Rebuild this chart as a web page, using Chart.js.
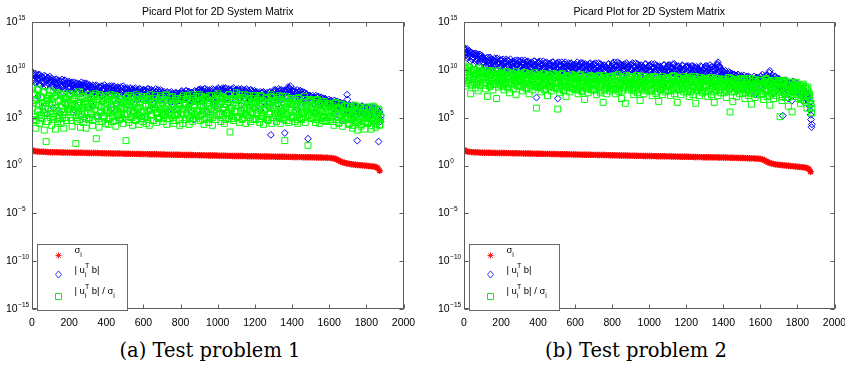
<!DOCTYPE html>
<html>
<head>
<meta charset="utf-8">
<script src="https://cdn.jsdelivr.net/npm/chart.js@4.4.1/dist/chart.umd.min.js"></script>
<style>
  html, body { margin: 0; padding: 0; background: #fff; overflow: hidden; }
  body { width: 845px; height: 365px; position: relative; }
  .panel { position: absolute; top: 0; height: 332px; }
  .caption { position: absolute; top: 340px; width: 420px; text-align: center;
             font-family: 'DejaVu Serif', serif; font-size: 19.5px; line-height: 22px; color: #000; }
</style>
</head>
<body>
<div class="panel" style="left:0;width:422px"><canvas id="c1"></canvas></div>
<div class="panel" style="left:425px;width:440px"><canvas id="c2"></canvas></div>
<div class="caption" style="left:0">(a) Test problem 1</div>
<div class="caption" style="left:426px">(b) Test problem 2</div>
<script>
// singular value indices: sigma every 10th, the coefficients at i = 1,6,11,... and i = 3,8,13,...
const sigmaIdx = Array.from({ length: 188 }, (_, k) => 1 + 10 * k);
const coefIdx = Array.from({ length: 376 }, (_, k) => 1 + 5 * k);
const midIdx = Array.from({ length: 376 }, (_, k) => 3 + 5 * k);

const yTickExps = [-15, -10, -5, 0, 5, 10, 15];
const xTicks = [0, 200, 400, 600, 800, 1000, 1200, 1400, 1600, 1800, 2000];
const title = 'Picard Plot for 2D System Matrix';

// all values below are log10 of the plotted quantity
const sigma1 = [
  1.62,1.52,1.48,1.46,1.45,1.44,1.43,1.42,1.41,1.40,
  1.39,1.39,1.38,1.38,1.37,1.37,1.36,1.36,1.36,1.35,
  1.35,1.35,1.34,1.34,1.34,1.33,1.33,1.33,1.32,1.32,
  1.31,1.31,1.31,1.30,1.30,1.30,1.29,1.29,1.28,1.28,
  1.27,1.27,1.27,1.26,1.26,1.26,1.25,1.25,1.24,1.24,
  1.23,1.23,1.23,1.22,1.22,1.21,1.21,1.21,1.20,1.20,
  1.19,1.19,1.19,1.18,1.18,1.17,1.17,1.17,1.16,1.16,
  1.15,1.15,1.14,1.14,1.14,1.13,1.13,1.12,1.12,1.12,
  1.11,1.11,1.10,1.10,1.10,1.09,1.09,1.08,1.08,1.08,
  1.07,1.07,1.06,1.06,1.06,1.05,1.05,1.04,1.04,1.04,
  1.03,1.03,1.03,1.02,1.02,1.01,1.01,1.01,1.00,1.00,
  1.00,0.99,0.99,0.99,0.98,0.98,0.97,0.97,0.97,0.96,
  0.96,0.96,0.95,0.95,0.95,0.94,0.94,0.94,0.93,0.93,
  0.93,0.92,0.92,0.92,0.91,0.91,0.91,0.90,0.90,0.90,
  0.89,0.89,0.89,0.88,0.88,0.88,0.87,0.87,0.86,0.86,
  0.86,0.85,0.85,0.84,0.84,0.83,0.83,0.82,0.82,0.81,
  0.80,0.78,0.75,0.70,0.62,0.52,0.42,0.34,0.28,0.24,
  0.20,0.16,0.13,0.10,0.08,0.06,0.04,0.02,0.01,-0.01,
  -0.03,-0.05,-0.07,-0.09,-0.12,-0.16,-0.25,-0.55
];
const blue1 = [
  9.8,9.5,8.9,9.6,8.6,9.4,7.2,9.1,9.5,8.4,9.3,6.1,8.8,9.4,8.2,9.0,5.4,9.2,8.5,9.3,
  8.7,9.1,8.3,6.0,8.9,8.5,9.0,7.9,8.6,8.8,5.5,8.2,9.0,8.4,7.6,8.9,8.5,6.3,8.7,8.1,
  8.6,8.2,7.8,8.7,8.4,5.8,8.0,8.6,7.6,8.3,8.5,6.6,8.1,8.7,7.9,8.4,4.9,8.2,8.6,7.7,
  8.3,7.9,8.4,7.4,8.1,6.2,8.3,7.7,8.0,8.4,5.2,7.8,8.2,7.5,8.3,7.9,6.7,8.1,8.4,7.6,
  8.2,7.6,8.0,8.3,7.3,5.9,8.1,7.8,8.3,7.5,6.5,8.0,8.2,7.4,7.9,4.8,8.1,7.7,8.3,7.2,
  8.0,7.5,8.1,7.2,7.8,6.3,8.0,7.6,7.9,5.6,7.4,8.1,7.7,6.8,7.9,7.3,8.0,7.5,5.1,7.8,
  7.9,7.4,7.8,6.9,8.0,7.2,7.6,5.8,7.9,7.3,7.7,6.4,7.5,8.0,7.1,7.8,4.9,7.6,7.9,7.0,
  7.6,7.1,7.7,6.8,7.4,7.6,5.7,7.2,7.5,6.6,7.7,7.0,7.3,6.2,7.6,7.4,5.3,7.1,7.5,6.9,
  7.5,7.8,7.0,7.6,6.5,7.3,7.8,7.1,5.9,7.7,7.4,6.8,7.6,7.2,4.8,7.8,7.5,6.7,7.3,7.9,
  7.7,8.0,7.3,7.9,6.6,7.6,8.0,7.2,7.8,5.6,7.5,7.9,7.1,6.9,8.0,7.4,7.7,6.2,7.9,7.3,
  8.1,7.5,7.9,7.0,8.0,7.6,5.9,7.8,8.1,7.3,7.7,6.5,8.0,7.4,7.9,5.2,7.6,8.1,7.2,7.8,
  7.9,7.4,8.0,7.1,7.7,6.3,7.9,7.5,7.8,5.4,7.6,8.0,7.2,7.7,6.7,7.9,7.3,7.8,6.0,7.5,
  7.6,7.2,7.7,6.8,7.5,7.1,5.8,7.6,7.3,7.7,6.5,7.4,7.0,7.6,6.1,7.3,7.7,3.2,7.5,7.1,
  7.7,7.3,7.9,7.0,7.6,6.4,7.8,7.4,7.9,5.7,7.5,7.8,3.4,7.6,7.9,7.2,7.7,8.1,8.3,7.5,
  7.8,7.3,7.9,6.9,7.6,7.2,5.9,7.7,7.4,7.8,6.6,7.5,7.1,7.6,6.3,7.4,7.2,2.8,7.0,7.3,
  7.2,6.8,7.3,6.5,7.1,6.9,5.5,7.2,6.7,7.0,6.3,7.1,6.6,7.0,5.1,6.8,6.9,6.4,6.7,6.5,
  6.7,6.3,6.8,6.0,6.6,6.4,5.2,6.7,6.2,6.5,5.8,6.6,6.1,6.4,4.7,6.3,6.5,5.9,6.2,7.4,
  6.2,5.8,6.3,5.5,6.1,5.9,4.9,6.2,5.7,6.0,2.6,6.1,5.6,5.9,5.2,6.2,5.8,5.4,6.0,5.7,
  6.0,5.6,6.1,5.3,5.9,5.7,4.8,6.0,5.5,5.8,5.1,5.9,5.4,2.5,5.6,4.6
];
const blue1Mid = [
  9.6,9.0,9.4,8.7,9.2,8.9,9.5,8.5,9.1,9.3,8.8,9.2,8.6,9.0,9.3,8.4,8.9,9.1,8.7,9.0,
  8.9,8.4,8.8,8.1,8.7,9.0,8.3,8.6,8.9,7.9,8.5,8.8,8.2,8.7,8.0,8.9,8.4,8.6,8.1,8.8,
  8.6,8.1,8.5,7.8,8.4,8.7,8.0,8.3,8.6,7.7,8.2,8.5,7.9,8.4,7.6,8.6,8.1,8.3,7.8,8.5,
  8.3,7.8,8.2,7.5,8.1,8.4,7.7,8.0,8.3,7.4,7.9,8.2,7.6,8.1,7.3,8.3,7.8,8.0,7.5,8.2,
  8.2,7.7,8.1,7.4,8.0,8.3,7.6,7.9,8.2,7.3,7.8,8.1,7.5,8.0,7.2,8.2,7.7,7.9,7.4,8.1,
  8.0,7.5,7.9,7.2,7.8,8.1,7.4,7.7,8.0,7.1,7.6,7.9,7.3,7.8,7.0,8.0,7.5,7.7,7.2,7.9,
  7.9,7.4,7.8,7.1,7.7,8.0,7.3,7.6,7.9,7.0,7.5,7.8,7.2,7.7,6.9,7.9,7.4,7.6,7.1,7.8,
  7.6,7.1,7.5,6.8,7.4,7.7,7.0,7.3,7.6,6.7,7.2,7.5,6.9,7.4,6.6,7.6,7.1,7.3,6.8,7.5,
  7.7,7.2,7.6,6.9,7.5,7.8,7.1,7.4,7.7,6.8,7.3,7.6,7.0,7.5,6.7,7.7,7.2,7.4,6.9,7.6,
  7.9,7.4,7.8,7.1,7.7,8.0,7.3,7.6,7.9,7.0,7.5,7.8,7.2,7.7,6.9,7.9,7.4,7.6,7.1,7.8,
  8.0,7.5,7.9,7.2,7.8,8.1,7.4,7.7,8.0,7.1,7.6,7.9,7.3,7.8,7.0,8.0,7.5,7.7,7.2,7.9,
  7.9,7.4,7.8,7.1,7.7,8.0,7.3,7.6,7.9,7.0,7.5,7.8,7.2,7.7,6.9,7.9,7.4,7.6,7.1,7.8,
  7.6,7.1,7.5,6.8,7.4,7.7,7.0,7.3,7.6,6.7,7.2,7.5,6.9,7.4,6.6,7.6,7.1,7.3,6.8,7.5,
  7.9,7.4,7.8,7.1,7.7,8.0,7.3,7.6,7.9,7.0,7.5,7.8,7.2,7.7,7.0,8.2,7.9,8.0,7.6,7.8,
  7.8,7.3,7.7,7.0,7.6,7.9,7.2,7.5,7.8,6.9,7.4,7.7,7.1,7.6,6.8,7.5,7.0,7.2,6.8,7.3,
  7.2,6.7,7.1,6.4,7.0,7.3,6.6,6.9,7.2,6.3,6.8,7.1,6.5,7.0,6.2,7.0,6.6,6.8,6.3,6.9,
  6.7,6.2,6.6,5.9,6.5,6.8,6.1,6.4,6.7,5.8,6.3,6.6,6.0,6.5,5.7,6.4,6.0,6.2,5.8,6.9,
  6.2,5.7,6.1,5.4,6.0,6.3,5.6,5.9,6.2,5.3,5.8,6.1,5.5,6.0,5.2,6.2,5.7,5.9,5.4,6.1,
  6.0,5.5,5.9,5.2,5.8,6.1,5.4,5.7,6.0,5.1,5.6,5.9,5.3,5.5,4.9,5.2
];
const green1 = [
  8.2,6.5,4.8,7.4,3.9,6.9,5.6,8.0,4.4,7.1,5.2,6.2,7.7,3.7,5.9,2.5,6.8,4.6,7.3,5.4,
  7.8,4.2,6.4,5.1,7.2,3.8,6.0,7.6,4.9,5.7,6.8,4.4,7.4,5.3,3.9,6.6,7.0,4.7,5.9,6.3,
  7.5,5.0,6.2,4.1,6.9,5.6,7.3,2.3,4.6,6.5,5.3,7.7,4.0,6.0,5.7,4.5,7.1,6.4,3.9,5.5,
  7.4,4.8,6.1,5.4,7.0,4.2,6.6,5.8,7.5,2.8,5.1,6.3,4.0,7.2,5.6,4.6,6.8,5.2,6.0,4.4,
  7.3,5.5,4.3,6.7,5.0,7.4,6.1,4.6,5.8,7.0,4.1,6.4,5.3,7.2,4.8,6.0,5.6,6.9,4.4,5.9,
  6.8,2.6,5.4,7.3,4.5,6.2,5.0,7.1,4.2,6.5,5.7,4.8,7.4,5.2,6.0,4.3,6.7,5.5,7.0,4.6,
  7.2,5.1,6.4,4.4,6.9,5.7,4.2,7.4,5.3,6.1,4.7,6.6,5.9,7.0,4.5,5.5,6.3,4.9,7.3,5.8,
  7.1,4.6,6.0,5.3,7.4,4.3,6.5,5.6,4.9,6.8,5.2,7.2,4.4,6.2,5.8,4.7,7.0,5.4,6.4,4.2,
  6.9,5.5,4.4,7.3,5.9,6.3,4.8,7.0,5.2,4.3,6.6,5.7,7.4,4.6,6.1,5.3,6.8,4.9,5.6,7.2,
  7.4,4.7,6.2,5.4,6.9,4.3,5.8,7.1,5.0,6.5,4.5,7.3,5.6,6.0,4.2,6.7,5.2,7.0,4.8,6.3,
  7.5,5.3,6.4,4.6,7.2,5.8,6.1,4.4,7.0,5.5,6.7,4.9,7.4,3.5,6.0,5.1,6.9,4.7,5.7,7.3,
  7.6,5.0,6.3,4.5,7.1,5.7,4.8,6.8,5.4,7.4,4.4,6.0,5.2,7.0,5.9,4.6,6.6,5.5,7.3,4.9,
  7.3,4.8,6.1,5.5,6.8,4.5,7.2,5.2,6.4,4.3,5.8,7.0,5.0,6.6,4.7,6.2,5.4,7.4,4.4,6.0,
  7.1,5.4,6.3,4.6,6.9,5.1,7.3,4.4,6.0,5.7,6.7,4.8,2.6,7.2,5.3,6.5,4.5,5.9,7.0,5.0,
  7.0,5.2,6.4,4.6,6.8,5.6,4.4,7.1,5.0,6.2,4.8,6.6,5.4,7.2,4.5,5.9,6.1,2.1,5.3,6.9,
  6.8,4.9,6.0,5.5,6.6,4.5,5.8,6.9,5.1,4.4,6.3,5.6,6.7,4.7,5.3,6.5,4.6,6.1,5.0,5.7,
  6.5,4.6,5.8,5.1,6.3,4.2,5.5,6.6,4.8,5.9,4.4,6.1,5.3,6.4,4.1,5.6,4.9,6.2,5.0,5.4,
  6.2,4.3,5.5,4.8,6.0,3.9,5.2,6.3,4.5,5.7,3.7,5.9,4.9,6.1,4.1,5.4,4.6,5.8,3.8,5.1,
  6.1,4.4,5.6,4.9,6.0,3.8,5.3,6.2,4.6,5.8,4.0,5.5,4.8,5.9,4.2,5.0
];
const green1Mid = [
  6.0,7.5,5.1,6.8,4.7,7.9,5.8,6.4,5.3,7.2,4.9,6.6,7.7,5.5,6.2,4.6,7.0,5.9,6.5,5.0,
  6.9,5.4,7.6,4.8,6.1,7.3,5.7,4.6,6.7,5.2,7.5,6.3,4.9,7.0,5.6,6.5,5.0,7.2,5.8,6.0,
  5.9,7.3,4.7,6.5,5.5,7.0,6.1,5.0,7.5,5.7,6.3,4.8,6.9,5.3,7.2,6.0,5.6,6.7,4.9,6.4,
  6.2,5.0,7.1,5.6,6.6,4.7,7.3,5.9,6.3,5.2,6.9,4.9,7.4,5.5,6.1,6.8,5.1,7.0,5.7,6.5,
  5.8,6.9,4.8,7.2,5.5,6.4,5.1,6.8,5.9,7.3,4.7,6.2,5.6,7.0,5.2,6.6,6.0,4.9,6.7,5.4,
  6.4,5.3,7.1,4.8,6.7,5.7,7.3,5.0,6.1,5.5,6.9,4.7,6.5,5.9,7.2,5.2,6.3,5.6,7.0,4.9,
  5.6,6.8,5.1,7.2,4.8,6.3,5.8,7.0,5.3,6.6,4.7,6.1,7.3,5.5,6.4,5.0,6.9,5.9,6.2,5.4,
  6.6,5.0,6.9,5.6,7.3,4.9,6.2,5.4,7.1,5.8,6.4,4.7,6.8,5.2,7.0,6.0,5.5,6.5,4.8,6.3,
  5.3,7.1,5.9,6.4,4.8,6.9,5.5,7.3,6.1,5.0,6.6,5.7,7.0,4.9,6.3,5.4,7.2,5.8,6.7,5.1,
  6.7,5.2,7.2,5.7,6.2,4.8,7.0,5.5,6.5,5.9,4.9,6.8,5.3,7.3,5.0,6.4,5.8,6.9,5.4,6.1,
  6.1,7.3,5.4,6.7,5.0,7.1,5.8,6.4,4.8,6.9,5.5,7.4,5.2,6.3,5.9,7.0,4.9,6.6,5.6,6.2,
  5.7,6.9,5.1,7.4,5.5,6.5,4.9,7.1,6.0,5.3,6.7,5.8,7.3,5.0,6.3,5.6,7.0,4.8,6.6,6.1,
  6.5,5.3,7.0,5.8,6.2,4.9,7.3,5.5,6.8,5.1,6.4,5.9,7.1,4.8,6.6,5.4,6.1,7.2,5.0,6.7,
  5.9,6.8,5.2,7.1,5.6,6.3,4.9,6.9,5.4,7.2,5.0,6.5,5.8,6.1,4.7,7.0,5.5,6.6,5.1,6.4,
  6.4,5.1,6.8,5.6,6.1,4.8,7.0,5.3,6.6,5.8,4.9,6.3,5.5,6.9,5.0,6.2,5.7,6.7,5.2,6.0,
  5.8,6.6,5.0,6.2,5.5,6.8,4.8,6.0,5.3,6.5,5.7,4.9,6.3,5.1,6.7,5.6,6.1,4.7,6.4,5.4,
  6.3,5.0,5.8,4.6,6.1,5.4,6.5,4.8,5.6,6.0,4.5,5.9,5.2,6.4,4.7,5.5,6.2,5.1,5.7,4.9,
  5.6,4.4,6.0,5.0,5.4,4.2,5.8,4.7,6.2,5.2,4.5,5.7,4.9,6.1,4.3,5.5,5.0,5.9,4.6,5.3,
  5.4,4.5,5.9,4.9,5.2,4.2,5.7,4.7,6.1,5.0,4.4,5.5,4.8,5.8,4.3,5.1
];

const sigma2 = [
  1.64,1.50,1.45,1.42,1.40,1.39,1.38,1.37,1.36,1.35,
  1.35,1.34,1.34,1.33,1.33,1.32,1.32,1.31,1.31,1.31,
  1.30,1.30,1.30,1.29,1.29,1.29,1.28,1.28,1.28,1.27,
  1.27,1.27,1.26,1.26,1.25,1.25,1.25,1.24,1.24,1.23,
  1.23,1.23,1.22,1.22,1.21,1.21,1.21,1.20,1.20,1.19,
  1.19,1.19,1.18,1.18,1.17,1.17,1.17,1.16,1.16,1.15,
  1.15,1.15,1.14,1.14,1.13,1.13,1.13,1.12,1.12,1.11,
  1.11,1.11,1.10,1.10,1.09,1.09,1.09,1.08,1.08,1.07,
  1.07,1.07,1.06,1.06,1.05,1.05,1.05,1.04,1.04,1.03,
  1.03,1.03,1.02,1.02,1.01,1.01,1.01,1.00,1.00,0.99,
  0.99,0.99,0.98,0.98,0.97,0.97,0.97,0.96,0.96,0.95,
  0.95,0.95,0.94,0.94,0.93,0.93,0.93,0.92,0.92,0.91,
  0.91,0.91,0.90,0.90,0.89,0.89,0.89,0.88,0.88,0.87,
  0.87,0.87,0.86,0.86,0.85,0.85,0.85,0.84,0.84,0.83,
  0.83,0.83,0.82,0.82,0.81,0.81,0.80,0.80,0.79,0.79,
  0.78,0.78,0.77,0.76,0.76,0.75,0.74,0.73,0.72,0.71,
  0.69,0.64,0.55,0.44,0.34,0.26,0.20,0.16,0.12,0.09,
  0.07,0.05,0.03,0.01,-0.01,-0.03,-0.05,-0.07,-0.09,-0.11,
  -0.13,-0.15,-0.17,-0.19,-0.22,-0.26,-0.36,-0.65
];
const blue2 = [
  12.3,12.1,11.8,12.2,11.4,11.9,11.6,10.9,11.8,11.3,11.7,10.6,11.5,11.7,11.0,11.4,10.4,11.6,11.2,11.5,
  11.3,10.8,11.1,10.4,11.2,10.9,9.7,11.0,11.3,10.6,11.1,10.2,10.9,11.2,10.5,11.0,8.9,10.8,11.1,10.3,
  11.0,10.6,11.1,10.2,10.8,10.9,9.5,11.0,10.4,10.7,11.1,9.9,10.6,10.9,10.1,10.8,8.6,10.5,11.0,10.3,
  10.9,10.4,11.0,10.1,10.7,10.3,9.4,10.8,10.5,10.9,9.6,10.6,10.2,10.8,9.8,10.5,10.9,10.0,7.1,10.3,
  10.8,10.3,10.9,9.9,10.6,10.2,9.2,10.7,10.4,10.8,9.7,10.5,10.0,10.7,8.8,10.4,10.8,9.9,10.5,10.1,
  10.7,7.0,10.8,9.9,10.5,10.1,9.3,10.6,10.3,10.8,9.6,10.4,10.0,10.7,8.9,10.3,10.6,9.8,10.5,10.2,
  10.6,10.2,10.8,9.8,10.4,10.0,9.1,10.7,10.3,10.5,9.5,10.6,9.9,10.4,8.7,10.2,10.7,9.7,10.4,10.1,
  10.5,10.1,10.7,9.7,10.3,9.9,9.0,10.6,10.2,10.4,9.4,10.5,9.8,10.3,8.5,10.1,10.6,9.6,10.3,10.0,
  10.6,10.0,10.8,9.8,10.4,10.1,9.2,10.7,10.3,10.5,9.5,10.4,9.9,10.6,8.8,10.2,10.5,9.7,10.4,10.1,
  10.5,10.0,10.7,9.6,10.3,9.9,9.0,10.6,10.1,10.4,9.3,10.5,9.8,10.2,8.6,10.0,10.6,9.5,10.3,9.9,
  10.4,9.9,10.6,9.5,10.2,9.8,8.9,10.5,10.0,10.3,9.2,10.4,9.7,10.1,8.4,9.9,10.5,9.4,10.2,9.8,
  10.4,9.8,10.5,9.6,10.2,9.7,8.8,10.6,10.0,10.3,9.1,10.4,9.6,10.1,8.5,9.9,10.4,9.3,10.1,9.7,
  10.3,9.7,10.4,9.4,10.1,9.6,8.7,10.4,9.9,10.2,9.0,10.3,9.5,10.0,8.3,9.8,10.3,9.2,10.0,9.6,
  10.2,9.6,10.4,9.3,10.0,9.7,8.6,10.3,9.8,10.1,8.9,10.2,9.5,10.5,10.8,9.7,10.3,9.1,9.9,9.5,
  9.8,9.3,9.9,9.0,9.6,9.2,8.3,9.7,9.4,9.6,8.7,9.5,9.0,9.4,7.9,9.3,9.5,8.8,9.2,9.0,
  9.3,8.8,9.4,8.6,9.1,8.9,7.8,9.3,8.7,9.2,8.4,9.0,8.6,9.3,7.4,8.9,9.2,8.5,9.0,8.7,
  9.3,8.8,9.5,8.5,9.2,8.9,7.9,9.4,8.7,9.1,9.9,9.3,8.6,9.4,7.5,9.0,9.3,8.4,9.1,8.8,
  9.0,8.4,8.8,8.1,5.2,8.6,7.4,8.9,8.2,8.7,7.0,8.5,8.0,8.6,6.8,8.3,8.5,7.6,8.2,7.9,
  8.3,7.8,8.1,7.4,8.0,7.6,6.7,7.9,7.3,7.7,6.9,7.5,7.0,6.2,5.3,4.0
];
const blue2Mid = [
  12.1,11.5,11.9,11.2,11.7,12.0,11.4,11.8,11.1,11.6,11.3,11.7,10.9,11.5,11.2,11.6,10.8,11.4,11.0,11.3,
  11.2,10.6,11.0,10.3,10.9,11.3,10.5,10.8,11.1,10.2,10.7,11.0,10.4,10.9,10.1,11.2,10.6,10.8,10.3,11.0,
  11.0,10.4,10.8,10.1,10.7,11.1,10.3,10.6,10.9,10.0,10.5,10.8,10.2,10.7,9.9,11.0,10.4,10.6,10.1,10.8,
  10.9,10.3,10.7,10.0,10.6,11.0,10.2,10.5,10.8,9.9,10.4,10.7,10.1,10.6,9.8,10.9,10.3,10.5,10.0,10.7,
  10.8,10.2,10.6,9.9,10.5,10.9,10.1,10.4,10.7,9.8,10.3,10.6,10.0,10.5,9.7,10.8,10.2,10.4,9.9,10.6,
  10.7,10.1,10.5,9.8,10.4,10.8,10.0,10.3,10.6,9.7,10.2,10.5,9.9,10.4,9.6,10.7,10.1,10.3,9.8,10.5,
  10.6,10.2,10.4,9.9,10.5,10.7,9.9,10.2,10.7,9.8,10.3,10.4,9.8,10.5,9.7,10.6,10.0,10.4,9.9,10.6,
  10.6,10.0,10.4,9.7,10.3,10.7,9.9,10.2,10.5,9.6,10.1,10.4,9.8,10.3,9.5,10.6,10.0,10.2,9.7,10.4,
  10.7,10.1,10.5,9.8,10.4,10.8,10.0,10.3,10.6,9.7,10.2,10.5,9.9,10.4,9.6,10.7,10.1,10.3,9.8,10.5,
  10.6,10.0,10.4,9.7,10.3,10.7,9.9,10.2,10.5,9.6,10.1,10.4,9.8,10.3,9.5,10.6,10.0,10.2,9.7,10.4,
  10.5,9.9,10.3,9.6,10.2,10.6,9.8,10.1,10.4,9.5,10.0,10.3,9.7,10.2,9.4,10.5,9.9,10.1,9.6,10.3,
  10.5,9.9,10.3,9.6,10.2,10.6,9.8,10.1,10.4,9.5,10.0,10.3,9.7,10.2,9.4,10.5,9.9,10.1,9.6,10.3,
  10.4,9.8,10.2,9.5,10.1,10.4,9.7,10.0,10.3,9.4,9.9,10.2,9.6,10.1,9.3,10.4,9.8,10.0,9.5,10.2,
  10.4,9.8,10.2,9.5,10.1,10.5,9.7,10.0,10.3,9.4,9.9,10.2,9.6,10.6,10.3,10.4,9.8,10.0,9.5,9.9,
  9.7,9.1,9.5,8.8,9.4,9.8,9.0,9.3,9.6,8.7,9.2,9.5,8.9,9.4,8.6,9.5,9.0,9.2,8.7,9.4,
  9.2,8.6,9.0,8.3,8.9,9.3,8.5,8.8,9.1,8.2,8.7,9.0,8.4,8.9,8.1,9.2,8.6,8.8,8.3,9.0,
  9.3,8.7,9.1,8.4,9.0,9.4,8.6,8.9,9.2,9.7,8.8,9.1,8.5,9.0,8.2,9.3,8.7,8.9,8.4,9.1,
  8.8,8.2,8.6,7.9,8.5,8.9,8.1,8.4,8.7,7.8,8.3,8.6,8.0,8.5,7.7,8.8,8.2,8.4,7.9,8.6,
  8.2,7.6,8.0,7.3,7.9,8.1,7.5,7.8,7.4,7.6,7.0,7.2,6.6,5.8,4.8,4.3
];
const green2 = [
  10.4,9.1,8.3,9.8,10.2,8.7,9.5,7.5,9.9,8.5,9.3,10.0,8.1,9.6,8.9,7.8,9.7,8.4,9.2,9.9,
  9.8,8.6,9.3,8.0,9.7,7.2,9.0,9.5,8.3,9.9,8.8,7.9,9.4,8.5,9.1,7.0,9.6,8.2,9.2,8.7,
  9.7,8.4,9.2,7.9,9.5,8.7,9.8,8.1,9.0,7.6,9.4,8.6,9.6,8.0,8.9,9.3,7.4,9.1,8.3,9.5,
  9.6,8.3,9.0,7.8,9.4,8.6,9.7,8.0,8.8,9.2,7.5,9.5,8.4,9.1,7.9,8.7,9.3,8.2,6.0,9.0,
  9.5,8.2,8.9,7.7,9.3,8.5,9.6,7.9,8.7,9.1,7.3,9.4,8.3,9.0,7.8,8.6,9.2,8.1,8.8,9.5,
  9.4,5.9,8.8,7.6,9.2,8.4,9.6,7.8,8.6,9.0,7.2,9.3,8.2,8.9,7.7,8.5,9.1,8.0,8.7,9.4,
  9.3,8.0,8.7,7.5,9.1,8.3,9.5,7.7,8.5,8.9,6.9,9.2,8.1,8.8,7.6,8.4,9.0,7.9,8.6,9.3,
  9.2,7.9,8.6,7.4,9.0,8.2,9.4,7.6,8.4,8.8,6.6,9.1,8.0,8.7,7.5,8.3,8.9,7.8,8.5,9.2,
  9.3,8.0,8.7,7.5,9.1,8.3,9.5,7.7,8.5,8.9,7.0,9.2,8.1,8.8,6.5,8.4,9.0,7.9,8.6,9.3,
  9.2,7.9,8.6,7.4,9.0,8.2,9.4,7.6,8.4,8.8,6.8,9.1,8.0,8.7,7.5,8.3,8.9,7.8,8.5,9.2,
  9.1,7.8,8.5,7.3,8.9,8.1,9.3,7.5,8.3,8.7,6.7,9.0,7.9,8.6,7.4,8.2,8.8,7.7,8.4,9.1,
  9.2,7.8,8.6,7.3,9.0,8.1,9.4,7.5,8.3,8.8,6.6,9.1,7.9,8.6,7.4,8.2,8.9,7.7,8.5,9.0,
  9.1,7.7,8.5,7.2,8.9,8.0,9.3,7.4,8.2,8.7,6.5,9.0,7.8,8.5,7.3,8.1,8.8,7.6,8.4,9.1,
  9.0,7.7,8.4,7.2,8.8,8.0,9.2,7.4,8.2,8.6,6.6,8.9,7.8,8.5,7.3,8.1,8.7,7.6,8.3,9.0,
  9.0,7.6,8.4,7.1,8.8,7.9,9.2,5.6,8.1,8.6,6.7,8.9,7.7,8.4,7.2,8.0,8.7,7.5,8.3,9.0,
  8.9,7.5,8.3,7.0,8.7,7.8,9.1,7.3,8.0,8.5,6.4,8.8,7.6,8.3,7.1,7.9,8.6,7.4,8.2,8.9,
  8.9,7.4,8.2,6.9,8.7,7.7,9.1,7.2,7.9,8.5,6.3,8.8,7.5,8.2,7.0,7.8,8.6,7.3,8.1,8.9,
  8.8,5.1,8.1,6.8,8.6,7.6,8.9,7.1,7.8,8.4,6.2,8.7,7.4,8.1,5.6,7.7,8.5,7.2,8.0,8.7,
  8.4,7.0,7.9,6.5,8.3,7.3,8.5,6.8,7.6,8.1,6.0,8.2,7.1,7.4,6.4,5.5
];
const green2Mid = [
  9.4,10.1,8.6,9.8,8.9,10.3,9.2,8.4,9.7,9.0,10.0,8.7,9.5,8.5,9.9,9.1,10.2,8.8,9.6,9.3,
  9.0,9.7,8.4,9.5,8.7,9.9,9.2,8.3,9.4,8.8,9.8,8.5,9.1,9.6,8.6,9.3,9.9,8.9,9.5,8.4,
  8.9,9.6,8.3,9.4,8.6,9.8,9.1,8.2,9.3,8.7,9.7,8.4,9.0,9.5,8.5,9.2,9.8,8.8,9.4,8.3,
  8.8,9.5,8.2,9.3,8.5,9.7,9.0,8.1,9.2,8.6,9.6,8.3,8.9,9.4,8.4,9.1,9.7,8.7,9.3,8.2,
  8.7,9.4,8.1,9.2,8.4,9.6,8.9,8.0,9.1,8.5,9.5,8.2,8.8,9.3,8.3,9.0,9.6,8.6,9.2,8.1,
  8.6,9.3,8.0,9.1,8.3,9.5,8.8,7.9,9.0,8.4,9.4,8.1,8.7,9.2,8.2,8.9,9.5,8.5,9.1,8.0,
  8.5,9.2,7.9,9.0,8.2,9.4,8.7,7.8,8.9,8.3,9.3,8.0,8.6,9.1,8.1,8.8,9.4,8.4,9.0,7.9,
  8.4,9.1,8.0,8.8,9.3,8.2,8.6,7.8,9.0,8.5,9.4,7.9,8.7,9.2,8.1,8.9,9.3,8.3,8.6,8.0,
  9.0,8.3,9.4,7.9,8.7,9.1,8.5,8.0,9.3,8.6,7.8,9.2,8.4,8.9,8.1,9.4,8.6,8.2,9.0,8.4,
  8.7,9.3,8.1,8.9,7.8,9.2,8.5,9.4,8.0,8.8,8.3,9.1,7.9,8.6,9.3,8.2,8.9,8.4,9.0,8.1,
  8.4,9.0,7.8,9.3,8.6,8.1,9.2,8.5,7.7,8.9,8.3,9.1,8.0,8.7,9.3,8.2,8.8,7.9,9.0,8.5,
  9.1,8.3,8.8,7.8,9.3,8.5,8.0,9.0,8.6,8.2,9.2,7.9,8.7,9.1,8.4,8.0,8.9,9.3,8.1,8.6,
  8.6,9.2,8.0,8.8,7.7,9.1,8.4,8.9,8.2,9.3,7.9,8.7,9.0,8.1,8.5,9.2,7.8,8.8,8.3,9.0,
  8.9,8.2,9.1,7.8,8.6,9.2,8.0,8.7,8.4,9.0,7.7,8.8,8.3,9.1,8.5,7.9,8.9,8.2,8.6,9.0,
  8.3,9.0,7.8,8.8,8.5,9.2,8.0,8.6,9.1,7.7,8.9,8.2,8.7,9.0,8.4,7.9,8.8,8.1,9.1,8.5,
  8.7,8.0,9.0,7.6,8.5,8.9,7.9,8.3,9.1,8.1,7.5,8.8,8.4,8.0,9.0,7.7,8.6,8.2,8.9,8.3,
  8.2,8.9,7.5,8.6,8.0,9.0,7.8,8.4,8.8,7.3,8.7,8.1,8.5,7.7,8.9,8.3,7.6,8.6,8.0,8.8,
  8.5,7.8,8.7,7.2,8.2,8.8,7.5,8.0,8.6,7.1,8.4,7.9,8.3,7.4,8.7,8.1,7.6,8.5,7.9,8.2,
  8.1,7.4,8.3,6.9,7.9,8.4,7.2,7.7,8.2,6.6,7.9,7.3,7.6,6.8,6.5,6.0
];

const FONT = '"Liberation Sans", Arial, sans-serif';
const AXIS = '#5c5c5c';

function toPoints(idx, exps) {
  return exps.map((e, k) => ({ x: idx[k], y: Math.pow(10, e) }));
}

// text with sub/superscripts, parts = [text, kind]
function drawRich(ctx, parts, x, y) {
  for (const [t, kind] of parts) {
    if (kind === 'subsup') {
      ctx.font = '7px ' + FONT;
      ctx.fillText(t[0], x, y + 5);
      ctx.fillText(t[1], x, y - 4);
      x += Math.max(ctx.measureText(t[0]).width, ctx.measureText(t[1]).width);
    } else if (kind === 'sub') {
      ctx.font = '7px ' + FONT;
      ctx.fillText(t, x, y + 5);
      x += ctx.measureText(t).width;
    } else {
      ctx.font = '9.5px ' + FONT;
      ctx.fillText(t, x, y);
      x += ctx.measureText(t).width;
    }
  }
}

function drawMarker(ctx, style, x, y, color) {
  ctx.strokeStyle = color;
  ctx.lineWidth = 1;
  ctx.beginPath();
  if (style === 'star') {
    for (let a = 0; a < 4; a++) {
      const dx = 3 * Math.cos(a * Math.PI / 4), dy = 3 * Math.sin(a * Math.PI / 4);
      ctx.moveTo(x - dx, y - dy); ctx.lineTo(x + dx, y + dy);
    }
  } else if (style === 'rectRot') {
    ctx.moveTo(x, y - 3.6); ctx.lineTo(x + 3, y); ctx.lineTo(x, y + 3.6); ctx.lineTo(x - 3, y); ctx.closePath();
  } else {
    ctx.rect(x - 3, y - 3, 6, 6);
  }
  ctx.stroke();
}

const legendRows = [
  { style: 'star', color: '#ff2020', dy: 11, ty: 6, parts: [['σ', ''], ['i', 'sub']] },
  { style: 'rectRot', color: '#3030ff', dy: 30, ty: 26, parts: [['| u', ''], [['i', 'T'], 'subsup'], [' b|', '']] },
  { style: 'rect', color: '#20e020', dy: 52, ty: 47, parts: [['| u', ''], [['i', 'T'], 'subsup'], [' b| / σ', ''], ['i', 'sub']] }
];

const frame = {
  id: 'frame',
  afterDatasetsDraw(chart) {
    const ctx = chart.ctx;
    const a = chart.chartArea;
    const xs = chart.scales.x, ys = chart.scales.y;
    const L = Math.round(a.left) + 0.5, R = Math.round(a.right) - 0.5;
    const T = Math.round(a.top) + 0.5, B = Math.round(a.bottom) - 0.5;
    ctx.save();
    ctx.strokeStyle = AXIS;
    ctx.lineWidth = 1;
    ctx.strokeRect(L, T, R - L, B - T);
    ctx.beginPath();
    for (const v of xTicks) {
      const px = Math.round(xs.getPixelForValue(v)) + 0.5;
      ctx.moveTo(px, T); ctx.lineTo(px, T + 4);
      ctx.moveTo(px, B); ctx.lineTo(px, B - 4);
    }
    for (const e of yTickExps) {
      const py = Math.round(ys.getPixelForValue(Math.pow(10, e))) + 0.5;
      ctx.moveTo(L, py); ctx.lineTo(L + 4, py);
      ctx.moveTo(R, py); ctx.lineTo(R - 4, py);
    }
    ctx.stroke();

    // y labels: 10 with a small exponent
    ctx.fillStyle = '#000';
    ctx.textBaseline = 'middle';
    ctx.textAlign = 'left';
    for (const e of yTickExps) {
      const py = ys.getPixelForValue(Math.pow(10, e));
      const x0 = a.left - 26;
      ctx.font = '10.5px ' + FONT;
      ctx.fillText('10', x0, py);
      const w = ctx.measureText('10').width;
      ctx.font = '6.5px ' + FONT;
      ctx.fillText(String(e).replace('-', '\u2212'), x0 + w + 0.5, py - 4);
    }

    // title
    ctx.font = '10.5px ' + FONT;
    ctx.textAlign = 'center';
    ctx.fillText(title, (a.left + a.right) / 2, 12);

    // legend box
    const lx = Math.round(a.left) + 5.5, lb = Math.round(a.bottom) + 1.5;
    const lt = lb - 66;
    ctx.fillStyle = '#fff';
    ctx.fillRect(lx, lt, 90, 66);
    ctx.strokeStyle = '#6a6a6a';
    ctx.strokeRect(lx, lt, 90, 66);
    ctx.textAlign = 'left';
    for (const row of legendRows) {
      drawMarker(ctx, row.style, lx + 21, lt + row.dy, row.color);
      ctx.fillStyle = '#000';
      drawRich(ctx, row.parts, lx + 37, lt + row.ty);
    }
    ctx.restore();
  }
};

function makeChart(id, sigma, blue, blueMid, green, greenMid, axisWidth, padRight) {
  const point = (style, radius, color, width) => ({
    pointStyle: style, pointRadius: radius, pointBorderWidth: width,
    pointBorderColor: color, pointBackgroundColor: 'rgba(0,0,0,0)', showLine: false
  });
  return new Chart(document.getElementById(id), {
    type: 'scatter',
    data: {
      datasets: [
        Object.assign({ label: 'sigma_i', data: toPoints(sigmaIdx, sigma), order: 3 },
          point('star', 3.2, '#ff0000', 1.4)),
        Object.assign({ label: '|u_i^T b|', data: toPoints(coefIdx, blue).concat(toPoints(midIdx, blueMid)), order: 2 },
          point('rectRot', 3.4, '#0000ff', 1)),
        Object.assign({ label: '|u_i^T b| / sigma_i', data: toPoints(coefIdx, green).concat(toPoints(midIdx, greenMid)), order: 1 },
          point('rect', 4.2, '#00ff00', 1))
      ]
    },
    options: {
      responsive: true,
      maintainAspectRatio: false,
      animation: false,
      events: [],
      layout: { padding: { left: 0, right: padRight, top: 22, bottom: 0 } },
      plugins: { legend: { display: false }, tooltip: { enabled: false } },
      scales: {
        x: {
          type: 'linear', min: 0, max: 2000,
          grid: { display: false, drawTicks: false }, border: { display: false },
          ticks: { stepSize: 200, autoSkip: false, maxRotation: 0, padding: 8, color: '#000',
                   font: { family: FONT, size: 10.5 }, callback: v => String(v) },
          afterFit: s => { s.height = 23; s.paddingLeft = 0; s.paddingRight = 0; }
        },
        y: {
          type: 'logarithmic', min: 1e-15, max: 1e15,
          grid: { display: false, drawTicks: false }, border: { display: false },
          ticks: { display: false },
          afterFit: s => { s.width = axisWidth; s.paddingTop = 0; s.paddingBottom = 0; }
        }
      }
    },
    plugins: [frame]
  });
}

makeChart('c1', sigma1, blue1, blue1Mid, green1, green1Mid, 32, 18.5);
makeChart('c2', sigma2, blue2, blue2Mid, green2, green2Mid, 39, 30.5);
</script>
</body>
</html>
